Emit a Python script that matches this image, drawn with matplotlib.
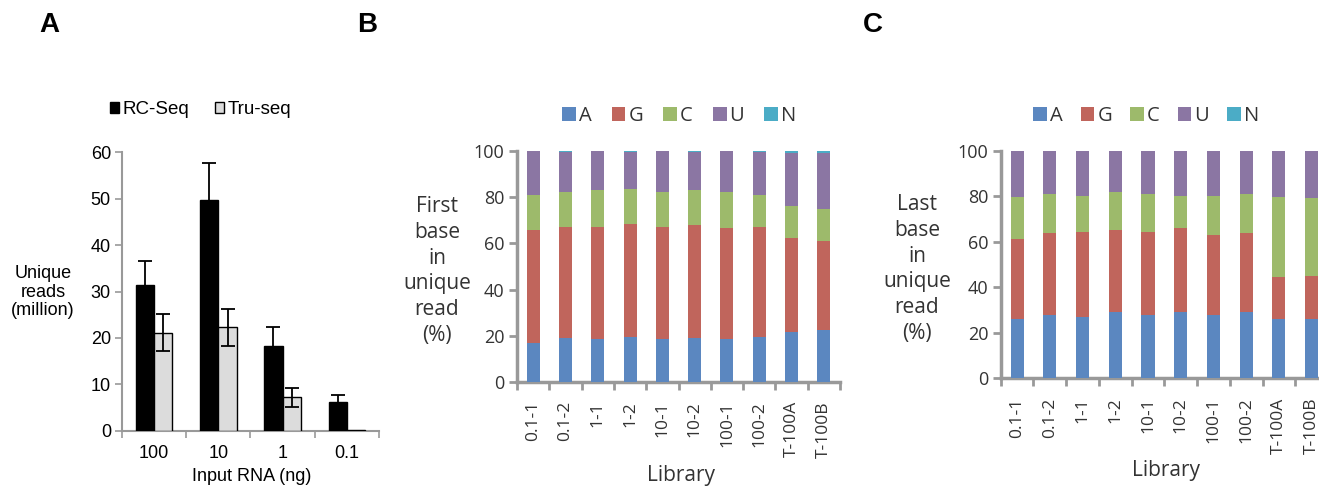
import matplotlib
matplotlib.use("Agg")
import matplotlib.pyplot as plt
from matplotlib.patches import Patch
import numpy as np

# ---------------- Data ----------------
# Panel A
inputs = ["100", "10", "1", "0.1"]
rc_seq = [31.5, 49.7, 18.3, 6.1]
rc_err = [5.0, 8.0, 4.0, 1.6]
tru_seq = [21.1, 22.3, 7.2, 0.2]
tru_err = [4.0, 4.0, 2.0, 0.0]

# Panels B, C
libraries = ["0.1-1", "0.1-2", "1-1", "1-2", "10-1", "10-2", "100-1", "100-2", "T-100A", "T-100B"]
bases = ["A", "G", "C", "U", "N"]

first_A = [16.6, 19.0, 18.4, 19.5, 18.4, 19.0, 18.4, 19.5, 21.7, 22.4]
first_G = [49.2, 48.3, 48.9, 49.1, 48.9, 49.0, 48.2, 47.8, 40.8, 38.7]
first_C = [15.1, 15.2, 15.9, 15.2, 15.2, 15.2, 15.9, 13.7, 13.8, 13.9]
first_U = [19.1, 17.2, 16.8, 15.9, 17.5, 16.5, 17.5, 18.6, 22.8, 24.1]
first_N = [0.0, 0.3, 0.0, 0.3, 0.0, 0.3, 0.0, 0.4, 0.9, 0.9]

last_A = [25.9, 27.7, 27.1, 29.3, 27.7, 29.3, 27.7, 29.3, 25.9, 25.9]
last_G = [35.2, 36.0, 37.3, 35.9, 36.7, 36.6, 35.4, 34.4, 18.5, 19.2]
last_C = [18.5, 17.4, 15.8, 16.6, 16.7, 14.3, 17.1, 17.4, 35.2, 34.0]
last_U = [20.4, 18.9, 19.8, 18.2, 18.9, 19.8, 19.8, 18.9, 20.4, 20.9]
last_N = [0.0, 0.0, 0.0, 0.0, 0.0, 0.0, 0.0, 0.0, 0.0, 0.0]

base_colors = ["#5B87C0", "#C0655C", "#9DBA6B", "#8B76A3", "#4BACC6"]

W, H = 1319, 486
fig = plt.figure(figsize=(W / 100, H / 100), dpi=100)

def fx(px):
    return px / W

def fy(py):
    return 1 - py / H

# ---------------- Panel A ----------------
axA = fig.add_axes([fx(122), fy(430.7), fx(379 - 122), fy(152.3) - fy(430.7)])
x = np.arange(len(inputs))
bw = 0.285
axA.bar(x - bw / 2, rc_seq, bw, color="black", edgecolor="black", linewidth=1,
        yerr=rc_err, error_kw=dict(ecolor="black", elinewidth=1.3, capsize=5, capthick=1.3), zorder=3)
tru_e = [e if e > 0 else np.nan for e in tru_err]
axA.bar(x + bw / 2, tru_seq, bw, color="#DCDCDC", edgecolor="black", linewidth=1,
        yerr=tru_e, error_kw=dict(ecolor="black", elinewidth=1.3, capsize=5, capthick=1.3), zorder=3)
axA.set_xlim(-0.5, len(inputs) - 0.5)
axA.set_ylim(0, 60)
axA.set_yticks(range(0, 61, 10))
axA.set_xticks(x)
axA.set_xticklabels(inputs)
axA.set_xticks(np.arange(-0.5, len(inputs), 1.0), minor=True)
axA.tick_params(axis="x", which="major", length=0, pad=10, labelsize=13)
axA.tick_params(axis="x", which="minor", length=5, width=1.2, color="#999999", direction="out")
axA.tick_params(axis="y", length=5, width=1.2, color="#999999", direction="out", labelsize=13, pad=3)
for s in ["top", "right"]:
    axA.spines[s].set_visible(False)
for s in ["left", "bottom"]:
    axA.spines[s].set_color("#999999")
    axA.spines[s].set_linewidth(1.5)
for lbl in axA.get_xticklabels() + axA.get_yticklabels():
    lbl.set_fontfamily("Liberation Sans")
fig.text(fx(43), fy(292), "Unique\nreads\n(million)", ha="center", va="center",
         fontsize=13, family="Liberation Sans", linespacing=1.08)
fig.text(fx(252), fy(476), "Input RNA (ng)", ha="center", va="center",
         fontsize=13, family="Liberation Sans")
handlesA = [Patch(facecolor="black", edgecolor="black", label="RC-Seq"),
            Patch(facecolor="#DCDCDC", edgecolor="black", label="Tru-seq")]
fig.legend(handles=handlesA, loc="center left", bbox_to_anchor=(fx(110), fy(110)),
           ncol=2, frameon=False, handlelength=0.5, handleheight=0.5,
           handletextpad=0.18, columnspacing=1.35, borderaxespad=0, borderpad=0,
           prop=dict(family="Liberation Sans", size=13.5))

# ---------------- Panels B and C ----------------
def stacked(ax_rect, series, ylabel_lines, ylabel_pos, lib_pos, legend_x, legend_spacing):
    ax = fig.add_axes(ax_rect)
    xs = np.arange(len(libraries))
    bottom = np.zeros(len(libraries))
    for vals, col in zip(series, base_colors):
        v = np.array(vals, dtype=float)
        ax.bar(xs, v, 0.4, bottom=bottom, color=col, edgecolor="none", zorder=3)
        bottom += v
    ax.set_xlim(-0.5, len(libraries) - 0.5)
    ax.set_ylim(0, 100)
    ax.set_yticks(range(0, 101, 20))
    ax.set_xticks(xs)
    ax.set_xticklabels(libraries, rotation=90, va="top", ha="center")
    ax.set_xticks(np.arange(-0.5, len(libraries), 1.0), minor=True)
    ax.tick_params(axis="x", which="major", length=0, pad=14, labelsize=12.5, labelcolor="#333333")
    ax.tick_params(axis="x", which="minor", length=6, width=2, color="#999999", direction="out")
    ax.tick_params(axis="y", length=6, width=2, color="#999999", direction="out",
                   labelsize=13, labelcolor="#333333", pad=3)
    for s in ["top", "right"]:
        ax.spines[s].set_visible(False)
    for s in ["left", "bottom"]:
        ax.spines[s].set_color("#999999")
        ax.spines[s].set_linewidth(2.5)
    for lbl in ax.get_xticklabels() + ax.get_yticklabels():
        lbl.set_fontfamily("Open Sans")
    fig.text(fx(ylabel_pos[0]), fy(ylabel_pos[1]), "\n".join(ylabel_lines), ha="center", va="center",
             fontsize=15, family="Open Sans", color="#333333", linespacing=1.3)
    fig.text(fx(lib_pos[0]), fy(lib_pos[1]), "Library", ha="center", va="center",
             fontsize=15, family="Open Sans", color="#333333")
    handles = [Patch(facecolor=c, edgecolor="none", label=b) for b, c in zip(bases, base_colors)]
    ax.legend(handles=handles, loc="center left", bbox_to_anchor=(fx(legend_x), fy(116)),
              bbox_transform=fig.transFigure, ncol=5, frameon=False,
              handlelength=0.68, handleheight=0.68, handletextpad=0.15,
              columnspacing=legend_spacing, borderaxespad=0, borderpad=0,
              prop=dict(family="Open Sans", size=14.5), labelcolor="#333333")
    return ax

stacked([fx(517), fy(381.7), fx(840 - 517), fy(151.3) - fy(381.7)],
        [first_A, first_G, first_C, first_U, first_N],
        ["First", "base", "in", "unique", "read", "(%)"], (437, 271), (681, 475), 562, 1.0)

stacked([fx(1000.7), fy(378.3), fx(1328 - 1000.7), fy(150.7) - fy(378.3)],
        [last_A, last_G, last_C, last_U, last_N],
        ["Last", "base", "in", "unique", "read", "(%)"], (917, 269), (1166, 470), 1033, 0.9)

# Panel letters
for lx, letter in [(49, "A"), (367, "B"), (873, "C")]:
    fig.text(fx(lx), fy(25), letter, ha="center", va="center", fontsize=20,
             fontweight="bold", family="Liberation Sans")

fig.savefig("out.png", dpi=100)
